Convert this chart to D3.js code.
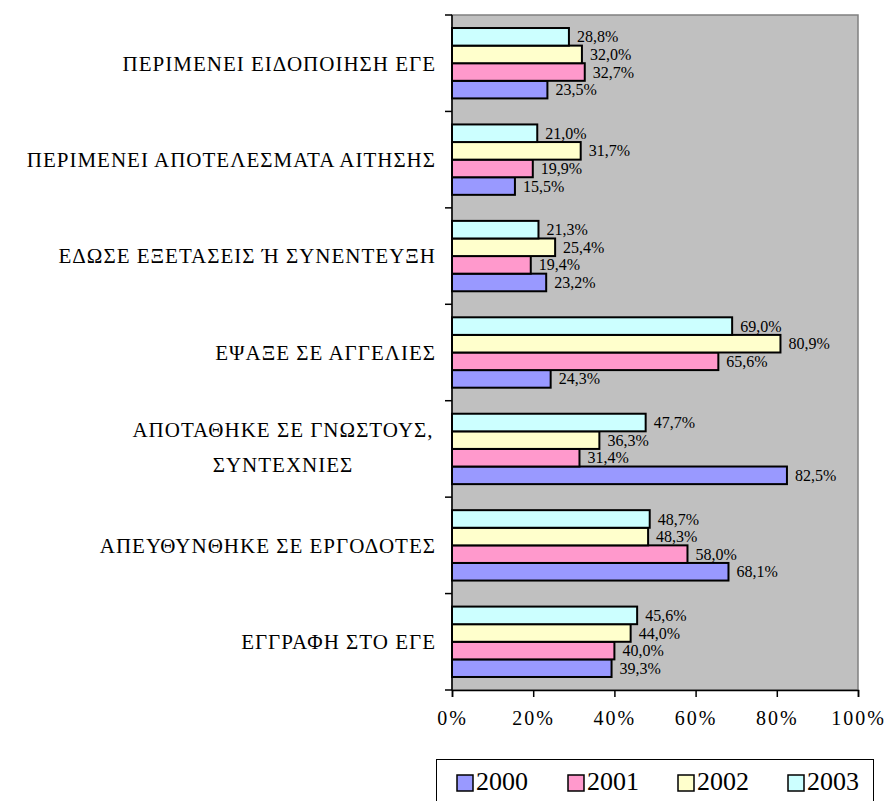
<!DOCTYPE html>
<html>
<head>
<meta charset="utf-8">
<script src="https://cdn.jsdelivr.net/npm/d3@7"></script>
<style>
  html, body { margin: 0; padding: 0; background: #fff; }
  svg { display: block; }
  svg text { font-family: "Liberation Serif", "Times New Roman", Times, "DejaVu Serif", serif !important; fill: #000; }
</style>
</head>
<body>
<svg id="chart" width="890" height="801"></svg>
<script>
// ---- data ----
const categories = [
  ["ΠΕΡΙΜΕΝΕΙ ΕΙΔΟΠΟΙΗΣΗ ΕΓΕ"],
  ["ΠΕΡΙΜΕΝΕΙ ΑΠΟΤΕΛΕΣΜΑΤΑ ΑΙΤΗΣΗΣ"],
  ["ΕΔΩΣΕ ΕΞΕΤΑΣΕΙΣ Ή ΣΥΝΕΝΤΕΥΞΗ"],
  ["ΕΨΑΞΕ ΣΕ ΑΓΓΕΛΙΕΣ"],
  ["ΑΠΟΤΑΘΗΚΕ ΣΕ ΓΝΩΣΤΟΥΣ,", "ΣΥΝΤΕΧΝΙΕΣ"],
  ["ΑΠΕΥΘΥΝΘΗΚΕ ΣΕ ΕΡΓΟΔΟΤΕΣ"],
  ["ΕΓΓΡΑΦΗ ΣΤΟ ΕΓΕ"]
];
const seriesNames = ["2000", "2001", "2002", "2003"];
const values2000 = [23.5, 15.5, 23.2, 24.3, 82.5, 68.1, 39.3];
const values2001 = [32.7, 19.9, 19.4, 65.6, 31.4, 58.0, 40.0];
const values2002 = [32.0, 31.7, 25.4, 80.9, 36.3, 48.3, 44.0];
const values2003 = [28.8, 21.0, 21.3, 69.0, 47.7, 48.7, 45.6];
const seriesColors = ["#9999FF", "#FF99CC", "#FFFFCC", "#CCFFFF"];
const xTicks = [0, 20, 40, 60, 80, 100];

const seriesValues = [values2000, values2001, values2002, values2003];
const FONT = '"Liberation Serif", "Times New Roman", Times, "DejaVu Serif", serif';

// ---- layout ----
const svg = d3.select("#chart");
const plot = { left: 452, right: 858, top: 15, bottom: 690 };

const catKeys = categories.map((c, i) => i);
const y0 = d3.scaleBand().domain(catKeys).range([plot.top, plot.bottom])
  .paddingInner(0.27).paddingOuter(0.135);
const y1 = d3.scaleBand().domain(["2003", "2002", "2001", "2000"]).range([0, y0.bandwidth()]);
const x = d3.scaleLinear().domain([0, 100]).range([plot.left, plot.right]);
const color = d3.scaleOrdinal().domain(seriesNames).range(seriesColors);

// plot background
svg.append("rect")
  .attr("x", plot.left).attr("y", plot.top)
  .attr("width", plot.right - plot.left).attr("height", plot.bottom - plot.top)
  .attr("fill", "#C0C0C0").attr("stroke", "#808080").attr("stroke-width", 1.5);

// bars
const rows = [];
catKeys.forEach(i => {
  seriesNames.forEach((s, k) => rows.push({ cat: i, series: s, value: seriesValues[k][i] }));
});

const g = svg.append("g");
g.selectAll("rect.bar").data(rows).join("rect")
  .attr("class", "bar")
  .attr("x", x(0))
  .attr("y", d => y0(d.cat) + y1(d.series))
  .attr("width", d => x(d.value) - x(0))
  .attr("height", y1.bandwidth())
  .attr("fill", d => color(d.series))
  .attr("stroke", "#000").attr("stroke-width", 2);

g.selectAll("text.val").data(rows).join("text")
  .attr("class", "val")
  .attr("x", d => x(d.value) + 8)
  .attr("y", d => y0(d.cat) + y1(d.series) + y1.bandwidth() / 2)
  .attr("dy", "0.35em")
  .attr("font-family", FONT)
  .attr("font-size", 16)
  .text(d => d.value.toFixed(1).replace(".", ",") + "%");

// left axis line + ticks at category boundaries
const axisG = svg.append("g");
axisG.append("line")
  .attr("x1", plot.left).attr("x2", plot.left)
  .attr("y1", plot.top).attr("y2", plot.bottom)
  .attr("stroke", "#000").attr("stroke-width", 1.5);
const step = y0.step();
const boundaries = d3.range(categories.length + 1).map(i => plot.top + i * step);
axisG.selectAll("line.ytick").data(boundaries).join("line")
  .attr("class", "ytick")
  .attr("x1", plot.left - 7).attr("x2", plot.left)
  .attr("y1", d => d).attr("y2", d => d)
  .attr("stroke", "#000").attr("stroke-width", 1.5);

// category labels
const catG = svg.append("g");
categories.forEach((lines, i) => {
  const cy = y0(i) + y0.bandwidth() / 2;
  const lh = 35;
  const t = catG.append("text")
    .attr("font-family", FONT)
    .attr("font-size", 21)
    .attr("letter-spacing", "1px");
  if (lines.length === 1) {
    t.attr("text-anchor", "end")
      .attr("x", 436).attr("y", cy).attr("dy", "0.35em").text(lines[0]);
  } else {
    t.attr("text-anchor", "middle");
    lines.forEach((ln, j) => {
      t.append("tspan")
        .attr("x", 283)
        .attr("y", cy - 2 + (j - (lines.length - 1) / 2) * lh)
        .attr("dy", "0.35em")
        .text(ln);
    });
  }
});

// bottom axis
const xAxis = d3.axisBottom(x).tickValues(xTicks).tickSize(7).tickPadding(14)
  .tickFormat(d => d + "%");
const xg = svg.append("g").attr("transform", `translate(0,${plot.bottom})`).call(xAxis);
xg.attr("font-family", FONT);
xg.select(".domain").attr("stroke", "#000").attr("stroke-width", 1.5);
xg.selectAll(".tick line").attr("stroke", "#000").attr("stroke-width", 1.5);
xg.selectAll(".tick text")
  .attr("font-family", FONT)
  .attr("font-size", 20).attr("letter-spacing", "2px").attr("fill", "#000");

// legend
const leg = svg.append("g");
leg.append("rect")
  .attr("x", 436.5).attr("y", 759.5).attr("width", 437).attr("height", 60)
  .attr("fill", "#fff").attr("stroke", "#000").attr("stroke-width", 1);
const legX = [457, 568, 678, 788];
seriesNames.forEach((s, k) => {
  leg.append("rect")
    .attr("x", legX[k]).attr("y", 775).attr("width", 16).attr("height", 16)
    .attr("fill", color(s)).attr("stroke", "#000").attr("stroke-width", 1.5);
  leg.append("text")
    .attr("x", legX[k] + 19).attr("y", 790)
    .attr("font-family", FONT)
    .attr("font-size", 26)
    .text(s);
});
</script>
</body>
</html>
